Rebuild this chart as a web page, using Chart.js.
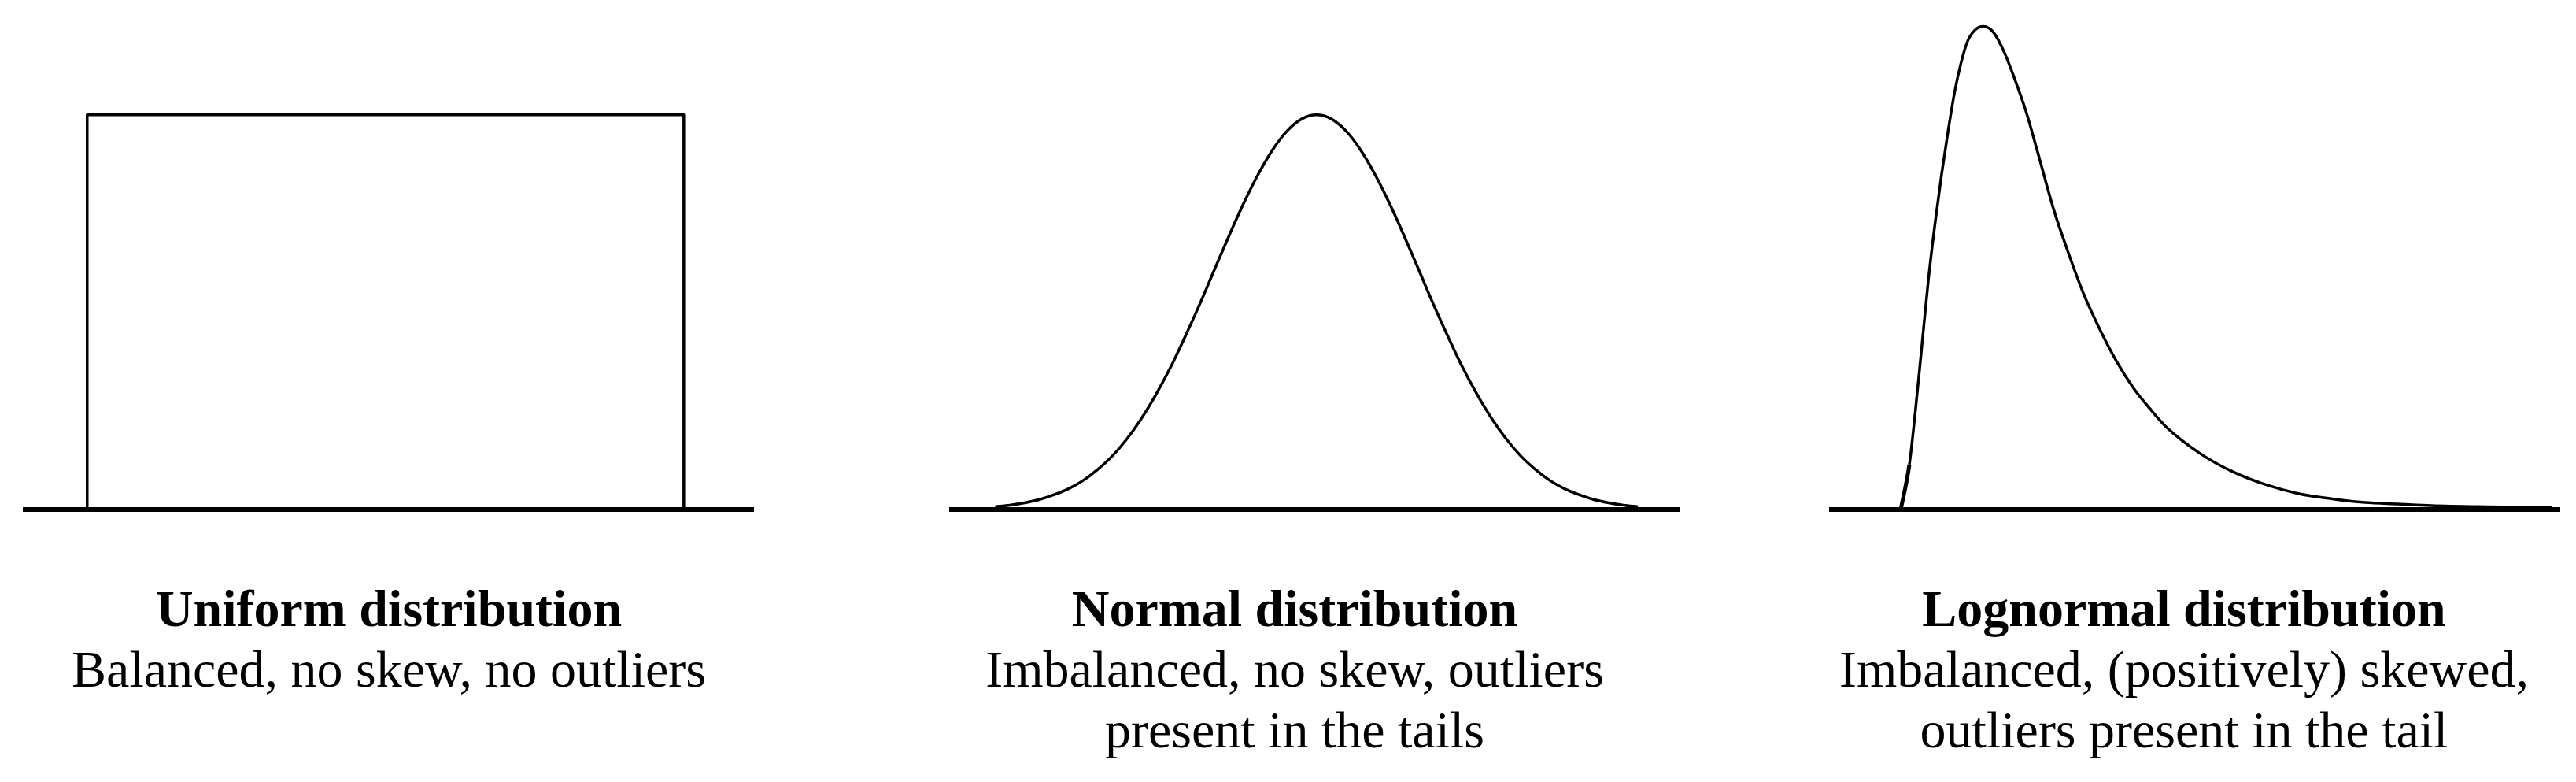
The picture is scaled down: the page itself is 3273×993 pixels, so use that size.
<!DOCTYPE html>
<html>
<head>
<meta charset="utf-8">
<script src="https://cdn.jsdelivr.net/npm/chart.js@4/dist/chart.umd.min.js"></script>
<style>
  html, body { margin: 0; padding: 0; background: #fff; }
  body { width: 3273px; height: 993px; position: relative; overflow: hidden; }
  .panel { position: absolute; top: 0; height: 660px; }
  .caption {
    position: absolute; top: 734px; width: 1100px; text-align: center;
    font-family: "Liberation Serif", "Times New Roman", serif;
    font-size: 66px; line-height: 77px; color: #000;
  }
  .caption b { font-weight: bold; }
</style>
</head>
<body>
<div class="panel" id="p1" style="left:29px;width:929px"><canvas id="c1"></canvas></div>
<div class="panel" id="p2" style="left:1206px;width:928px"><canvas id="c2"></canvas></div>
<div class="panel" id="p3" style="left:2324px;width:929px"><canvas id="c3"></canvas></div>

<div class="caption" id="t1" style="left:-56px"></div>
<div class="caption" id="t2" style="left:1095px"></div>
<div class="caption" id="t3" style="left:2225px"></div>

<script>
// ---- Data (x: 0-100 across the baseline, y: 100 = height of uniform/normal peak) ----
const baselineX = [0, 100];
const baselineY = [0, 0];

const uniformX = [8.8, 8.8, 90.4, 90.4];
const uniformY = [0, 100, 100, 0];

const normalX = [6.3, 8.3, 10.3, 12.3, 14.3, 16.3, 18.3, 20.3, 22.3, 24.3, 26.3, 28.3,
                 30.3, 32.3, 34.3, 36.3, 38.3, 40.3, 42.3, 44.3, 46.3, 48.3, 50.3,
                 52.3, 54.3, 56.3, 58.3, 60.3, 62.3, 64.3, 66.3, 68.3, 70.3, 72.3,
                 74.3, 76.3, 78.3, 80.3, 82.3, 84.3, 86.3, 88.3, 90.3, 92.3, 94.3];
const normalY = [0.7, 1.1, 1.7, 2.5, 3.7, 5.2, 7.3, 10.1, 13.5, 17.8, 23.0, 29.1,
                 36.0, 43.8, 52.0, 60.7, 69.3, 77.5, 84.9, 91.2, 96.0, 99.0, 100,
                 99.0, 96.0, 91.2, 84.9, 77.5, 69.3, 60.7, 52.0, 43.8, 36.0, 29.1,
                 23.0, 17.8, 13.5, 10.1, 7.3, 5.2, 3.7, 2.5, 1.7, 1.1, 0.7];

const lognormalX = [9.80, 10.98, 11.77, 12.67, 13.56, 14.46, 15.36, 16.25, 17.15, 18.05,
                    18.95, 20.02, 21.10, 22.53, 23.97, 25.40, 26.84, 28.28, 30.72, 32.54,
                    34.80, 37.07, 39.33, 41.59, 43.86, 46.12, 50.66, 55.19, 59.72, 64.25,
                    68.78, 73.31, 77.83, 82.35, 89.99, 98.82];
const lognormalY = [0, 11.4, 24.4, 41.1, 57.9, 72.1, 84.6, 95.6, 105.6, 113.2,
                    118.7, 121.6, 122.4, 120.8, 115.8, 109.0, 101.4, 92.2, 76.0, 66.0,
                    54.7, 45.5, 37.5, 30.9, 25.6, 20.9, 14.3, 9.6, 6.3, 4.0,
                    2.7, 1.8, 1.4, 1.0, 0.7, 0.5];

const titles = ["Uniform distribution", "Normal distribution", "Lognormal distribution"];
const descriptions = [
  ["Balanced, no skew, no outliers"],
  ["Imbalanced, no skew, outliers", "present in the tails"],
  ["Imbalanced, (positively) skewed,", "outliers present in the tail"]
];

// ---- Helpers ----
const pts = (xs, ys) => xs.map((x, i) => ({ x: x, y: ys[i] }));

function makeChart(id, curveX, curveY, opts) {
  const curve = Object.assign({
    data: pts(curveX, curveY),
    borderColor: '#000',
    borderWidth: 3.5,
    pointRadius: 0,
    fill: false,
    clip: false,
    borderJoinStyle: 'round'
  }, opts || {});
  new Chart(document.getElementById(id), {
    type: 'line',
    data: {
      datasets: [
        { data: pts(baselineX, baselineY), borderColor: '#000', borderWidth: 6,
          pointRadius: 0, clip: false, borderCapStyle: 'butt' },
        curve
      ]
    },
    options: {
      responsive: true,
      maintainAspectRatio: false,
      animation: false,
      events: [],
      layout: { padding: { top: 0, bottom: 13, left: 0, right: 0 } },
      plugins: { legend: { display: false }, tooltip: { enabled: false }, title: { display: false } },
      scales: {
        x: { type: 'linear', display: false, min: 0, max: 100 },
        y: { type: 'linear', display: false, min: 0, max: 129.1 }
      }
    }
  });
}

makeChart('c1', uniformX, uniformY, { tension: 0 });
makeChart('c2', normalX, normalY, { cubicInterpolationMode: 'monotone' });
makeChart('c3', lognormalX, lognormalY, {
  cubicInterpolationMode: 'monotone',
  segment: { borderWidth: ctx => ctx.p0DataIndex === 0 ? 5 : 3.5 }
});

// ---- Captions ----
['t1', 't2', 't3'].forEach((id, i) => {
  const el = document.getElementById(id);
  const b = document.createElement('b');
  b.textContent = titles[i];
  el.appendChild(b);
  descriptions[i].forEach(line => {
    el.appendChild(document.createElement('br'));
    el.appendChild(document.createTextNode(line));
  });
});
</script>
</body>
</html>
